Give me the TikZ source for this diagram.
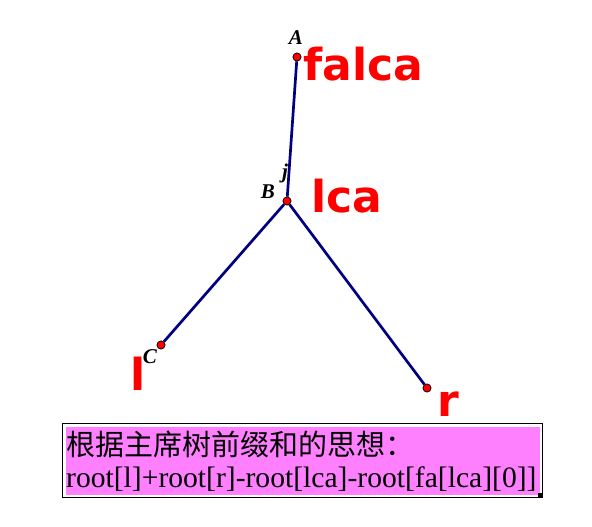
\documentclass[tikz,border=0pt]{standalone}
\usepackage{fontspec}
\setmainfont{Liberation Serif}
\newfontfamily\cjk{Noto Sans CJK SC}
\newfontfamily\hand{DejaVu Sans}
\definecolor{navy}{HTML}{000080}
\definecolor{boxpink}{HTML}{FF80FF}
\begin{document}
\begin{tikzpicture}[x=1pt,y=-1pt,
  pt/.style={circle,draw=black,fill=red,inner sep=0pt,minimum size=8pt,line width=0.6pt},
  edge/.style={draw=navy,line width=2.7pt},
  ptlabel/.style={font=\bfseries\itshape\fontsize{21}{21}\selectfont,inner sep=0pt},
  redlabel/.style={text=red,font=\hand\bfseries\fontsize{44}{44}\selectfont,inner sep=0pt,anchor=west}]
\useasboundingbox (0,0) rectangle (592,527);
\node[pt] (A) at (297,57) {};
\node[pt] (B) at (287,201) {};
\node[pt] (C) at (161,345) {};
\node[pt] (R) at (427,388) {};
\draw[edge] (A) -- (B);
\draw[edge] (B) -- (C);
\draw[edge] (B) -- (R);
\node[pt] at (A) {};
\node[pt] at (B) {};
\node[pt] at (C) {};
\node[pt] at (R) {};
\node[ptlabel] (la) at (296,38) {A};
\node[ptlabel] (lj) at (285,173) {j};
\node[ptlabel] (lb) at (268,192) {B};
\node[ptlabel] (lc) at (150,357) {C};
\node[redlabel] (falca) at (303,64) {falca};
\node[redlabel] (lca) at (311,196) {lca};
\node[redlabel] (l) at (130,374) {l};
\node[redlabel] (r) at (437,404) {r};
\node[draw=black,line width=1pt,fill=white,minimum width=480pt,minimum height=74pt,inner sep=0pt,anchor=north west] (frame) at (62,423) {};
\node[fill=boxpink,minimum width=474pt,minimum height=68pt,inner sep=0pt] (box) at (frame.center) {};
\node[anchor=west,inner sep=0pt,font=\cjk\fontsize{29}{29}\selectfont] (t1) at (66,444) {根据主席树前缀和的思想：};
\node[anchor=west,inner sep=0pt,font=\fontsize{29.6}{29.6}\selectfont] (t2) at (66,479) {root[l]+root[r]-root[lca]-root[fa[lca][0]]};
\node[fill=black,inner sep=0pt,minimum size=4pt] (sq) at (540,495) {};
\end{tikzpicture}
\end{document}
